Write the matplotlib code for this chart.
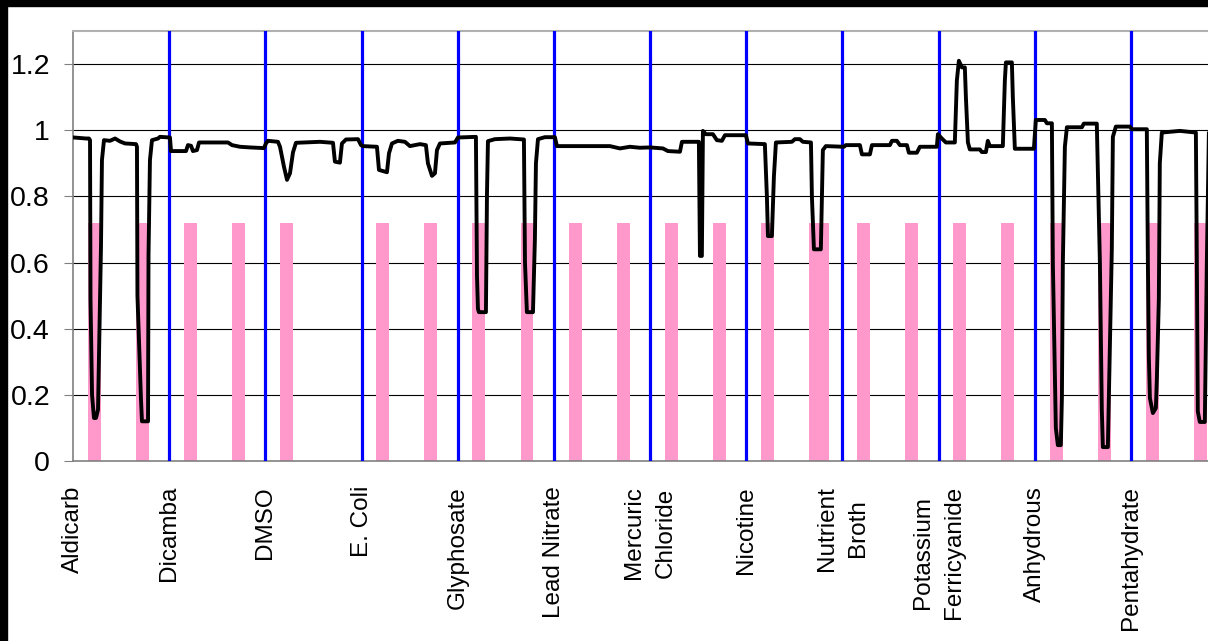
import matplotlib
matplotlib.use("Agg")
import matplotlib.pyplot as plt
from matplotlib.patches import Rectangle

plt.rcParams['font.family'] = ['Liberation Sans', 'DejaVu Sans']

# compound names, one per 100-sample block
categories = ['Aldicarb', 'Dicamba', 'DMSO', 'E. Coli', 'Glyphosate', 'Lead Nitrate',
              'Mercuric\nChloride', 'Nicotine', 'Nutrient\nBroth', 'Potassium\nFerricyanide',
              'Anhydrous', 'Pentahydrate']
category_starts = [0, 100, 200, 300, 400, 500, 600, 700, 800, 900, 1000, 1100]
boundaries = [100, 200, 300, 400, 500, 600, 700, 800, 900, 1000, 1100]

# exposure markers (pink bars)
exposure_x = [22, 72, 122, 172, 222, 322, 372, 422, 472, 522, 572, 622, 672, 722, 772, 779,
              822, 872, 922, 972, 1022, 1072, 1122, 1172]
exposure_h = [0.72, 0.72, 0.72, 0.72, 0.72, 0.72, 0.72, 0.72, 0.72, 0.72, 0.72, 0.72, 0.72,
              0.72, 0.72, 0.72, 0.72, 0.72, 0.72, 0.72, 0.72, 0.72, 0.72, 0.72]

# normalised response trace
trace_x = [
    1.0, 13.5, 16.6, 17.7, 18.2, 19.8, 21.8, 23.9, 26.0, 28.1, 29.1, 30.1, 32.2, 38.5, 43.7,
    48.9, 54.1, 65.5, 66.5, 67.0, 70.7, 71.7, 78.0, 78.5, 80.0, 82.1, 88.4, 90.4, 99.8, 100.8,
    101.9, 117.5, 119.5, 122.7, 124.7, 128.9, 131.0, 161.1, 165.3, 173.6, 184.0, 198.5, 200.6,
    202.7, 213.1, 215.2, 219.3, 222.5, 225.6, 228.7, 231.8, 256.8, 270.3, 272.3, 277.5, 279.6,
    283.8, 296.3, 299.4,
    301.5, 316.0, 318.1, 326.4, 328.5, 331.6, 337.8, 345.1, 350.3, 360.7, 366.9, 369.0, 373.2,
    376.3, 378.4, 381.5, 397.1, 400.2, 418.9,
    420.0, 421.0, 422.0, 429.3, 430.4, 431.4, 438.7, 454.3, 468.8, 469.9, 471.9, 478.2, 480.2,
    481.3, 483.4, 490.6, 501.0, 503.1,
    558.2, 568.6, 579.0, 589.4, 599.8,
    613.3, 618.5, 631.0, 633.1, 650.7, 651.8, 653.8, 654.9, 658.0, 665.3, 669.4, 674.6, 677.8,
    699.6, 701.7,
    719.3, 721.4, 722.5, 726.6, 728.7, 730.8, 747.4, 750.5, 755.7, 758.8, 767.2, 768.2, 770.3,
    777.5, 779.6, 782.7, 801.5,
    803.5, 818.1, 820.2, 828.5, 830.6, 849.3, 851.4, 856.5, 859.7, 867.0, 869.0, 877.3, 880.5,
    898.1,
    899.2, 903.3, 907.5, 916.8, 918.9, 921.0, 924.1, 927.2, 928.3, 930.4, 932.4, 942.8, 944.9,
    949.1, 951.1, 953.2, 966.7, 968.8, 969.9, 976.1, 977.1, 979.2, 999.0,
    1001.0, 1010.4, 1012.5, 1017.7, 1018.7, 1021.8, 1023.9, 1027.0, 1028.1, 1029.1, 1031.2,
    1033.3, 1048.9, 1050.9, 1064.4, 1067.6, 1069.6, 1070.7, 1075.9, 1078.0, 1080.0, 1081.1,
    1084.2, 1098.8,
    1100.8, 1116.4, 1117.5, 1118.5, 1119.6, 1122.7, 1125.8, 1126.8, 1128.9, 1129.9, 1132.0,
    1150.7, 1167.4, 1168.4, 1169.4, 1171.5, 1176.7, 1178.8, 1180.9]
trace_y = [
    0.978, 0.975, 0.975, 0.97, 0.49, 0.2, 0.13, 0.13, 0.155, 0.48, 0.65, 0.91, 0.97, 0.968,
    0.975, 0.966, 0.96, 0.958, 0.95, 0.5, 0.185, 0.12, 0.12, 0.62, 0.91, 0.97, 0.975, 0.98,
    0.978, 0.978,
    0.937, 0.937, 0.955, 0.953, 0.937, 0.94, 0.963, 0.963, 0.955, 0.95, 0.948, 0.946, 0.96,
    0.968, 0.965, 0.95, 0.89, 0.85, 0.87, 0.933, 0.962, 0.965, 0.962, 0.905, 0.902, 0.96,
    0.972, 0.973, 0.955,
    0.952, 0.95, 0.88, 0.873, 0.93, 0.96, 0.968, 0.965, 0.952, 0.958, 0.955, 0.9, 0.862,
    0.87, 0.94, 0.96, 0.963, 0.978, 0.98,
    0.56, 0.46, 0.45, 0.45, 0.81, 0.967, 0.973, 0.975, 0.972, 0.6, 0.45, 0.45, 0.67, 0.9,
    0.973, 0.979, 0.979, 0.952,
    0.952, 0.945, 0.95, 0.947, 0.948,
    0.945, 0.937, 0.935, 0.965, 0.965, 0.62, 0.62, 0.998, 0.988, 0.988, 0.97, 0.968, 0.985,
    0.985, 0.96,
    0.958, 0.8, 0.68, 0.68, 0.86, 0.963, 0.965, 0.973, 0.973, 0.965, 0.963, 0.8, 0.64, 0.64,
    0.94, 0.952, 0.95,
    0.955, 0.955, 0.927, 0.927, 0.955, 0.955, 0.968, 0.968, 0.955, 0.955, 0.932, 0.932, 0.95,
    0.95,
    0.988, 0.975, 0.963, 0.963, 1.15, 1.21, 1.19, 1.19, 1.1, 0.963, 0.942, 0.942, 0.934,
    0.934, 0.968, 0.952, 0.952, 1.15, 1.205, 1.205, 1.1, 0.944, 0.944,
    1.031, 1.031, 1.021, 1.021, 0.6, 0.1, 0.048, 0.048, 0.19, 0.6, 0.95, 1.009, 1.009, 1.02,
    1.02, 0.6, 0.155, 0.042, 0.042, 0.345, 0.64, 0.98, 1.011, 1.011,
    1.003, 1.003, 0.6, 0.316, 0.19, 0.145, 0.16, 0.245, 0.49, 0.9, 0.993, 0.998, 0.993, 0.6,
    0.15, 0.118, 0.118, 0.6, 0.99]

y_ticks = [0, 0.2, 0.4, 0.6, 0.8, 1, 1.2]
y_labels = ['0', '0.2', '0.4', '0.6', '0.8', '1', '1.2']

fig = plt.figure(figsize=(12.08, 6.41), dpi=100)
fig.patch.set_facecolor('white')
ax = fig.add_axes([73 / 1208, 180 / 641, 1 - 73 / 1208, 430 / 641])

# black frame remnants at top and left of the picture
fig.patches.append(Rectangle((0, 1 - 6 / 641), 1, 6 / 641, transform=fig.transFigure,
                             color='black', zorder=10))
fig.patches.append(Rectangle((0, 0), 7 / 1208, 1, transform=fig.transFigure,
                             color='black', zorder=10))

for t in y_ticks[1:]:
    ax.axhline(t, color='black', lw=0.8, zorder=1)

ax.bar(exposure_x, exposure_h, width=13.5, color='#FF99CC', zorder=2)

for b in boundaries:
    ax.axvline(b, color='#0000FF', lw=2.3, zorder=3)

ax.plot(trace_x, trace_y, color='black', lw=2.8, solid_joinstyle='round', zorder=4)

ax.set_xlim(0, 1180)
ax.set_ylim(0, 1.3)

ax.set_yticks(y_ticks)
ax.set_yticklabels(y_labels)
ax.tick_params(axis='y', direction='out', length=6.5, width=0.8, color='#808080',
               labelsize=20.5, pad=10)

ax.set_xticks(category_starts)
ax.set_xticklabels(categories, rotation=90, ha='center', va='top', fontsize=17.5,
                   linespacing=1.55)
ax.tick_params(axis='x', length=0, pad=18)

ax.spines['right'].set_visible(False)
ax.spines['top'].set_color('#B0B0B0')
ax.spines['top'].set_linewidth(1.5)
ax.spines['left'].set_color('#808080')
ax.spines['bottom'].set_color('#808080')
ax.spines['left'].set_linewidth(1.2)
ax.spines['bottom'].set_linewidth(1.2)

fig.savefig('out.png', dpi=100, facecolor='white')
